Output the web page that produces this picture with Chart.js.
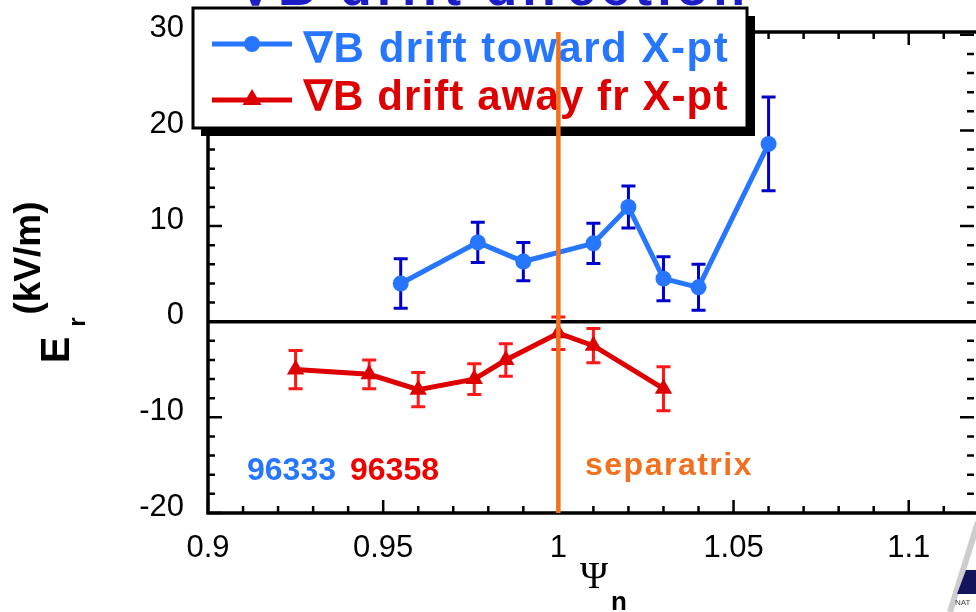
<!DOCTYPE html>
<html><head><meta charset="utf-8">
<script src="https://cdn.jsdelivr.net/npm/chart.js@4/dist/chart.umd.min.js"></script>
<style>html,body{margin:0;padding:0;background:#fff;overflow:hidden}#wrap{width:976px;height:612px;position:relative}</style>
</head><body><div id="wrap"><canvas id="c" width="976" height="612"></canvas></div>
<script>
// ---- data ----
const blueX = [0.955, 0.977, 0.99, 1.01, 1.02, 1.03, 1.04, 1.06];
const blueY = [4.0, 8.3, 6.3, 8.2, 12.0, 4.5, 3.6, 18.6];
const blueErr = [2.6, 2.1, 2.0, 2.1, 2.2, 2.3, 2.4, 4.9];
const redX = [0.925, 0.946, 0.96, 0.976, 0.985, 1.0, 1.01, 1.03];
const redY = [-5.0, -5.5, -7.1, -6.0, -4.0, -1.2, -2.5, -7.0];
const redErr = [2.0, 1.5, 1.8, 1.6, 1.7, 1.7, 1.8, 2.3];
const xTickValues = [0.9, 0.95, 1, 1.05, 1.1];
const xTickLabels = ['0.9', '0.95', '1', '1.05', '1.1'];
const yTickValues = [-20, -10, 0, 10, 20, 30];
const yTickLabels = ['-20', '-10', '0', '10', '20', '30'];
const seriesNames = ['\u2207B drift toward X-pt', '\u2207B drift away fr X-pt'];
const shotLabels = ['96333', '96358'];
const separatrixX = 1.0;
const separatrixLabel = 'separatrix';
const titleText = '\u2207B drift direction';
const xTitle = ['\u03A8', 'n'];
const yTitle = ['(kV/m)', 'E', 'r'];

// ---- styles ----
const BLUE = 'rgb(38,118,255)', RED = 'rgb(222,0,0)';
const BLUE_ERR = 'rgb(0,0,205)', RED_ERR = 'rgb(255,24,24)';
const ORANGE = 'rgb(242,112,30)', NAVY = 'rgb(28,28,200)';
const SANS = '"Liberation Sans", Arial, sans-serif';

const pts = (xs, ys, es) => xs.map((x, i) => ({x: x, y: ys[i], err: es[i]}));

const errPlugin = {
  id: 'errbars',
  beforeDatasetsDraw(chart) {
    const {ctx, scales: {x, y}, chartArea: a} = chart;
    ctx.save();
    const y0 = y.getPixelForValue(0);
    ctx.strokeStyle = '#000'; ctx.lineWidth = 3.5;
    ctx.beginPath(); ctx.moveTo(a.left, y0); ctx.lineTo(a.right, y0); ctx.stroke();
    chart.data.datasets.forEach(ds => {
      ctx.strokeStyle = ds.errColor; ctx.lineWidth = 3;
      ds.data.forEach(p => {
        const px = x.getPixelForValue(p.x);
        const t = y.getPixelForValue(p.y + p.err), b = y.getPixelForValue(p.y - p.err);
        ctx.beginPath();
        ctx.moveTo(px, t); ctx.lineTo(px, b);
        ctx.moveTo(px - 7, t); ctx.lineTo(px + 7, t);
        ctx.moveTo(px - 7, b); ctx.lineTo(px + 7, b);
        ctx.stroke();
      });
    });
    ctx.restore();
  }
};

function drawTriangle(ctx, cx, cy, r) {
  ctx.beginPath();
  ctx.moveTo(cx, cy - r);
  ctx.lineTo(cx + r * 0.95, cy + r * 0.6);
  ctx.lineTo(cx - r * 0.95, cy + r * 0.6);
  ctx.closePath(); ctx.fill();
}

const decoPlugin = {
  id: 'deco',
  afterDraw(chart) {
    const {ctx, scales: {x, y}, chartArea: a} = chart;
    ctx.save();
    // frame
    ctx.strokeStyle = '#000'; ctx.lineWidth = 3.5; ctx.lineCap = 'square';
    ctx.beginPath();
    ctx.moveTo(a.right, a.top); ctx.lineTo(a.left, a.top); ctx.lineTo(a.left, a.bottom); ctx.lineTo(a.right, a.bottom);
    ctx.stroke();
    ctx.lineCap = 'butt'; ctx.lineWidth = 2.5;
    // x ticks (inward, top and bottom)
    for (let k = Math.ceil(x.min * 100 - 1e-6); k <= Math.floor(x.max * 100 + 1e-6); k++) {
      const px = x.getPixelForValue(k / 100), len = (k % 5 === 0) ? 13 : 7;
      ctx.beginPath();
      ctx.moveTo(px, a.bottom); ctx.lineTo(px, a.bottom - len);
      ctx.moveTo(px, a.top); ctx.lineTo(px, a.top + len);
      ctx.stroke();
    }
    // y ticks (inward, left and right)
    for (let k = Math.ceil(y.min / 2); k * 2 <= y.max; k++) {
      const v = k * 2, py = y.getPixelForValue(v), len = (v % 10 === 0) ? 14 : 7;
      ctx.beginPath();
      ctx.moveTo(a.left, py); ctx.lineTo(a.left + len, py);
      ctx.moveTo(a.right - 2, py); ctx.lineTo(a.right - 2 - len, py);
      ctx.stroke();
    }
    // title (mostly cut off at the top)
    ctx.fillStyle = NAVY; ctx.font = 'bold 52px ' + SANS;
    ctx.letterSpacing = '5px';
    ctx.textAlign = 'left'; ctx.textBaseline = 'alphabetic';
    ctx.fillText(titleText, 238, 5);
    ctx.letterSpacing = '0px';
    // legend box with shadow
    const L = 193, T = 8, W = 554, H = 120;
    ctx.fillStyle = '#000'; ctx.fillRect(L + 8, T + 8, W, H);
    ctx.fillStyle = '#fff'; ctx.fillRect(L, T, W, H);
    ctx.strokeStyle = '#000'; ctx.lineWidth = 3; ctx.strokeRect(L, T, W, H);
    const rows = [44, 100], base = [62, 110], spacing = ['1.55px', '1.1px'], cols = [BLUE, RED];
    rows.forEach((ry, i) => {
      ctx.strokeStyle = cols[i]; ctx.fillStyle = cols[i]; ctx.lineWidth = 5;
      ctx.beginPath(); ctx.moveTo(212, ry); ctx.lineTo(292, ry); ctx.stroke();
      if (i === 0) { ctx.beginPath(); ctx.arc(252, ry, 8, 0, Math.PI * 2); ctx.fill(); }
      else drawTriangle(ctx, 252, ry - 1, 10);
      ctx.font = 'bold 42px ' + SANS; ctx.letterSpacing = spacing[i];
      ctx.textBaseline = 'alphabetic';
      ctx.fillText(seriesNames[i], 304, base[i]);
      ctx.letterSpacing = '0px';
    });
    // separatrix line
    const sx = x.getPixelForValue(separatrixX);
    ctx.strokeStyle = ORANGE; ctx.lineWidth = 4.5;
    ctx.beginPath(); ctx.moveTo(sx, a.top); ctx.lineTo(sx, a.bottom); ctx.stroke();
    // annotations
    ctx.font = 'bold 32px ' + SANS; ctx.textBaseline = 'alphabetic';
    ctx.fillStyle = BLUE; ctx.fillText(shotLabels[0], 247, 480);
    ctx.fillStyle = 'rgb(240,0,0)'; ctx.fillText(shotLabels[1], 350, 480);
    ctx.fillStyle = ORANGE; ctx.letterSpacing = '1.5px';
    ctx.fillText(separatrixLabel, 585, 475);
    ctx.letterSpacing = '0px';
    // axis titles
    ctx.fillStyle = '#000';
    ctx.save(); ctx.translate(30, 258); ctx.rotate(-Math.PI / 2);
    ctx.font = 'bold 37px ' + SANS; ctx.textAlign = 'center'; ctx.textBaseline = 'middle';
    ctx.fillText(yTitle[0], 0, 0); ctx.restore();
    ctx.save(); ctx.translate(58, 350); ctx.rotate(-Math.PI / 2);
    ctx.font = 'bold 40px ' + SANS; ctx.textAlign = 'center'; ctx.textBaseline = 'middle';
    ctx.fillText(yTitle[1], 0, 0); ctx.restore();
    ctx.save(); ctx.translate(78, 322); ctx.rotate(-Math.PI / 2);
    ctx.font = 'bold 24px ' + SANS; ctx.textAlign = 'center'; ctx.textBaseline = 'middle';
    ctx.fillText(yTitle[2], 0, 0); ctx.restore();
    ctx.textAlign = 'center'; ctx.textBaseline = 'middle';
    ctx.font = '38px "Liberation Serif", "DejaVu Serif", serif';
    ctx.fillText(xTitle[0], 594, 578);
    ctx.font = 'bold 26px ' + SANS;
    ctx.fillText(xTitle[1], 619, 603);
    // logo fragment at bottom right
    ctx.strokeStyle = 'rgb(205,205,205)'; ctx.lineWidth = 6;
    ctx.beginPath(); ctx.moveTo(978, 522); ctx.lineTo(950, 612); ctx.stroke();
    ctx.fillStyle = 'rgb(20,20,90)';
    ctx.beginPath(); ctx.moveTo(966, 570); ctx.lineTo(976, 570); ctx.lineTo(976, 594); ctx.lineTo(957, 594); ctx.closePath(); ctx.fill();
    ctx.fillStyle = '#444'; ctx.font = '8px ' + SANS; ctx.textAlign = 'left';
    ctx.fillText('NAT', 955, 603);
    ctx.restore();
  }
};

new Chart(document.getElementById('c'), {
  type: 'scatter',
  data: {
    datasets: [
      {label: seriesNames[0], data: pts(blueX, blueY, blueErr), showLine: true,
       borderColor: BLUE, backgroundColor: BLUE, borderWidth: 5, pointStyle: 'circle',
       pointRadius: 8, pointBorderWidth: 0, errColor: BLUE_ERR},
      {label: seriesNames[1], data: pts(redX, redY, redErr), showLine: true,
       borderColor: RED, backgroundColor: RED, borderWidth: 5, pointStyle: 'triangle',
       pointRadius: 10, pointBorderWidth: 0, errColor: RED_ERR}
    ]
  },
  options: {
    responsive: false, animation: false, devicePixelRatio: 1,
    layout: {autoPadding: false, padding: {top: 32, left: 0, right: 0, bottom: 0}},
    plugins: {legend: {display: false}, tooltip: {enabled: false}},
    scales: {
      x: {
        type: 'linear', min: 0.9, max: 1.1192,
        afterBuildTicks: s => { s.ticks = xTickValues.map(v => ({value: v})); },
        afterFit: s => { s.height = 99; s.paddingLeft = 0; s.paddingRight = 0; },
        grid: {display: false}, border: {display: false},
        ticks: {padding: 9, color: '#000', font: {family: SANS, size: 31},
                callback: v => { const i = xTickValues.indexOf(v); return i >= 0 ? xTickLabels[i] : ''; }}
      },
      y: {
        type: 'linear', min: -20, max: 30.3,
        afterBuildTicks: s => { s.ticks = yTickValues.map(v => ({value: v})); },
        afterFit: s => { s.width = 208; s.paddingTop = 0; s.paddingBottom = 0; },
        grid: {display: false}, border: {display: false},
        ticks: {padding: 16, labelOffset: -6, color: '#000', font: {family: SANS, size: 31},
                callback: v => { const i = yTickValues.indexOf(v); return i >= 0 ? yTickLabels[i] : ''; }}
      }
    }
  },
  plugins: [errPlugin, decoPlugin]
});
</script>
</body></html>
